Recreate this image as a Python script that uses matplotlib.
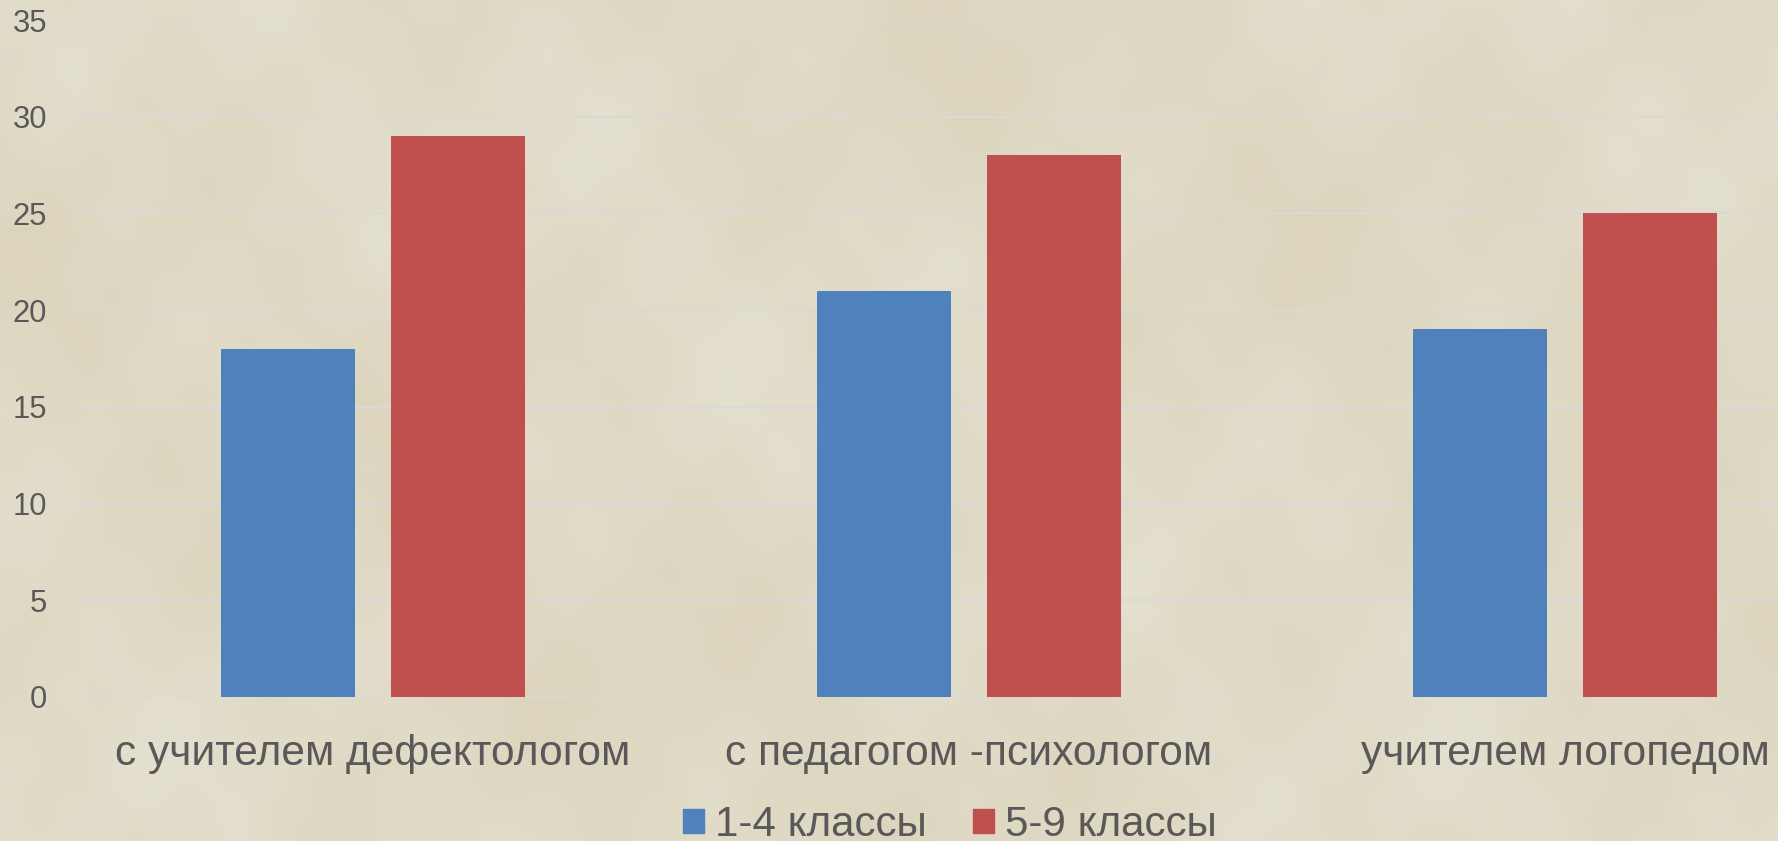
import matplotlib
matplotlib.use("Agg")
import matplotlib.pyplot as plt
import numpy as np
from matplotlib.patches import Patch

categories = ["с учителем дефектологом", "с педагогом -психологом", "учителем логопедом"]
series_names = ["1-4 классы", "5-9 классы"]
grade_1_4 = [18, 21, 19]
grade_5_9 = [29, 28, 25]
y_ticks = [0, 5, 10, 15, 20, 25, 30, 35]

W, H = 1778, 841
plt.rcParams['font.family'] = ['Liberation Sans', 'DejaVu Sans']
fig = plt.figure(figsize=(W/100, H/100), dpi=100)

# aged-paper background: soft deterministic mottling, purely decorative
bg = fig.add_axes([0, 0, 1, 1], zorder=0)
bg.set_axis_off()
yy, xx = np.mgrid[0:H:3, 0:W:3]
m = (np.sin(xx/97 + yy/61) + np.sin(xx/41 - yy/73 + 1.3) + np.sin(xx/23 + yy/31 + 2.1)*0.6
     + np.sin(xx/211 - yy/137 + 0.4)*1.4 + np.sin(xx/13 - yy/17)*0.3) / 4.2
base = np.array([224, 218, 198], float)
tint = np.array([4, 6, 10], float)
img = np.clip((base + m[..., None] * tint) / 255, 0, 1)
bg.imshow(img, extent=(0, 1, 0, 1), aspect='auto', interpolation='bicubic')

left, right = 75, 1778
top, bottom = 20, 697
ax = fig.add_axes([left/W, 1-bottom/H, (right-left)/W, (bottom-top)/H], zorder=1)
ax.patch.set_alpha(0)

x0 = 373.0   # centre of first group, px
step = 596.0
x = np.arange(len(categories))
ax.set_xlim((left-x0)/step, (right-x0)/step)
ax.set_ylim(0, 35)

bw = 134/step
off = 85/step
ax.bar(x-off, grade_1_4, bw, color='#4f81bd', zorder=3)
ax.bar(x+off, grade_5_9, bw, color='#c0504d', zorder=3)

ax.set_yticks(y_ticks)
ax.yaxis.grid(True, color='#d9d9d9', lw=1.5, zorder=1)
ax.set_axisbelow(True)
for s in ax.spines.values():
    s.set_visible(False)
ax.tick_params(axis='both', length=0)
ax.tick_params(axis='y', labelsize=22.3, labelcolor='#595959', pad=20)
ax.set_xticks(x)
ax.set_xticklabels(categories, fontsize=30.6, color='#595959')
ax.tick_params(axis='x', pad=26.5)
for lab in ax.get_yticklabels() + ax.get_xticklabels():
    lab.set_clip_on(False)

handles = [Patch(color='#4f81bd', label=series_names[0]), Patch(color='#c0504d', label=series_names[1])]
fig.legend(handles=handles, loc='center', bbox_to_anchor=(949.5/W, 1-825/H), ncol=2, frameon=False,
           fontsize=30.3, labelcolor='#595959', handlelength=0.5, handleheight=0.5,
           handletextpad=0.26, columnspacing=1.1, borderpad=0)

fig.savefig('out.png', dpi=100)
